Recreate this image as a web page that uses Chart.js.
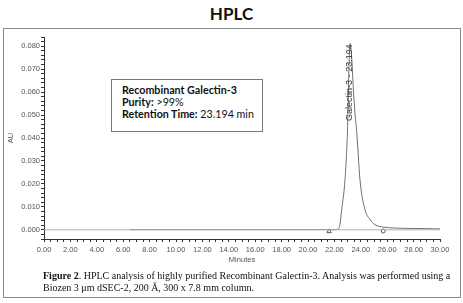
<!DOCTYPE html>
<html>
<head>
<meta charset="utf-8">
<script src="https://cdn.jsdelivr.net/npm/chart.js@4.4.0/dist/chart.umd.min.js"></script>
<style>
  body { margin: 0; background: #fff; }
  #wrap { position: relative; width: 463px; height: 303px; overflow: hidden; }
  #title { position: absolute; left: 0; width: 463px; top: 3px; text-align: center;
           font: bold 17px Lato, sans-serif; color: #111; }
  #frame { position: absolute; left: 3px; top: 28px; width: 456px; height: 268px; border: 1px solid #888; }
  #note { position: absolute; left: 111px; top: 79px; width: 140px; height: 43px; border: 1px solid #777;
          padding: 4px 0 4px 10px; font: 10.7px Lato, sans-serif; line-height: 12px; color: #111; background: #fff; }
  #caption { position: absolute; left: 43px; top: 270px; font: 10px "Liberation Serif", serif;
             line-height: 12px; color: #111; white-space: nowrap; }
  canvas { position: absolute; left: 0; top: 0; }
</style>
</head>
<body>
<div id="wrap">
  <div id="title">HPLC</div>
  <div id="frame"></div>
  <canvas id="hplc" width="463" height="303"></canvas>
  <div id="note">
    <b>Recombinant Galectin-3</b><br>
    <b>Purity:</b> &gt;99%<br>
    <b>Retention Time:</b> 23.194 min
  </div>
  <div id="caption">
    <b>Figure 2</b>. HPLC analysis of highly purified Recombinant Galectin-3. Analysis was performed using a<br>
    Biozen 3 μm dSEC-2, 200 Å, 300 x 7.8 mm column.
  </div>
</div>
<script>
// chromatogram (minutes, AU)
const traceMinutes = [6.5, 10, 15, 20, 22.0, 22.3, 22.42, 22.55, 22.8, 23.0, 23.1, 23.19, 23.3, 23.45, 23.6, 23.68, 23.94, 24.32, 24.7, 25.08, 25.7, 26.5, 28, 30];
const traceAU = [0.0001, 0.0001, 0.0001, 0.0001, 0.0001, 0.0004, 0.0022, 0.0087, 0.0217, 0.045, 0.070, 0.0812, 0.076, 0.060, 0.048, 0.0435, 0.0217, 0.0087, 0.0045, 0.0022, 0.0012, 0.0008, 0.0006, 0.0004];

// integration start / end markers
const peakStart = [21.6, -0.0007];
const peakEnd = [25.7, -0.0005];

const peakLabel = "Galectin-3 - 23.194";
const peakRT = 23.194;
const peakTop = 0.0808;

const zeroLine = [[0, 0], [30, 0]];

const toPts = (xs, ys) => xs.map((x, i) => ({ x: x, y: ys[i] }));

// writes the peak name up along the peak
const peakLabelPlugin = {
  id: "peakLabel",
  afterDatasetsDraw(chart) {
    const ctx = chart.ctx;
    const px = chart.scales.x.getPixelForValue(peakRT);
    const py = chart.scales.y.getPixelForValue(peakTop);
    ctx.save();
    ctx.translate(px + 4, py);
    ctx.rotate(-Math.PI / 2);
    ctx.font = "9px 'Liberation Sans', Arial, sans-serif";
    ctx.fillStyle = "#333";
    ctx.textAlign = "right";
    ctx.textBaseline = "bottom";
    ctx.fillText(peakLabel, 0, 0);
    ctx.restore();
  }
};

new Chart(document.getElementById("hplc"), {
  type: "line",
  data: {
    datasets: [
      {
        data: zeroLine.map(p => ({ x: p[0], y: p[1] })),
        borderColor: "#b0b0b0",
        borderWidth: 1,
        pointRadius: 0
      },
      {
        data: toPts(traceMinutes, traceAU),
        borderColor: "#707070",
        borderWidth: 1,
        pointRadius: 0,
        cubicInterpolationMode: "monotone"
      },
      {
        data: [{ x: peakStart[0], y: peakStart[1] }],
        showLine: false,
        pointStyle: "triangle",
        pointRadius: 2.5,
        borderColor: "#555",
        borderWidth: 1,
        backgroundColor: "#fff"
      },
      {
        data: [{ x: peakEnd[0], y: peakEnd[1] }],
        showLine: false,
        pointStyle: "circle",
        pointRadius: 2,
        borderColor: "#555",
        borderWidth: 1,
        backgroundColor: "#fff"
      }
    ]
  },
  options: {
    responsive: false,
    animation: false,
    layout: { padding: { left: 6, top: 37, right: 23, bottom: 38 } },
    plugins: { legend: { display: false }, tooltip: { enabled: false } },
    scales: {
      x: {
        type: "linear",
        min: 0,
        max: 30,
        afterFit: s => { s.height = 26; },
        border: { color: "#333" },
        grid: { drawOnChartArea: false, tickLength: 3, color: "#333" },
        ticks: {
          stepSize: 0.5,
          autoSkip: false,
          maxRotation: 0,
          padding: 3,
          color: "#555",
          font: { family: "'Liberation Sans', Arial", size: 7.5 },
          callback: v => (Math.abs(v / 2 - Math.round(v / 2)) < 1e-6 ? v.toFixed(2) : "")
        },
        title: {
          display: true,
          text: "Minutes",
          color: "#555",
          padding: { top: 0, bottom: 1 },
          font: { family: "'Liberation Sans', Arial", size: 7.5 }
        }
      },
      y: {
        min: -0.004,
        max: 0.084,
        afterFit: s => { s.width = 38; },
        border: { color: "#333" },
        grid: { drawOnChartArea: false, tickLength: 3, color: "#333" },
        ticks: {
          stepSize: 0.002,
          autoSkip: false,
          padding: 1,
          color: "#555",
          font: { family: "'Liberation Sans', Arial", size: 7.5 },
          callback: v => (Math.abs(v / 0.01 - Math.round(v / 0.01)) < 1e-6 ? Math.abs(v).toFixed(3) : "")
        },
        title: {
          display: true,
          text: "AU",
          color: "#555",
          padding: { top: 0, bottom: 2 },
          font: { family: "'Liberation Sans', Arial", size: 7.5 }
        }
      }
    }
  },
  plugins: [peakLabelPlugin]
});
</script>
</body>
</html>
